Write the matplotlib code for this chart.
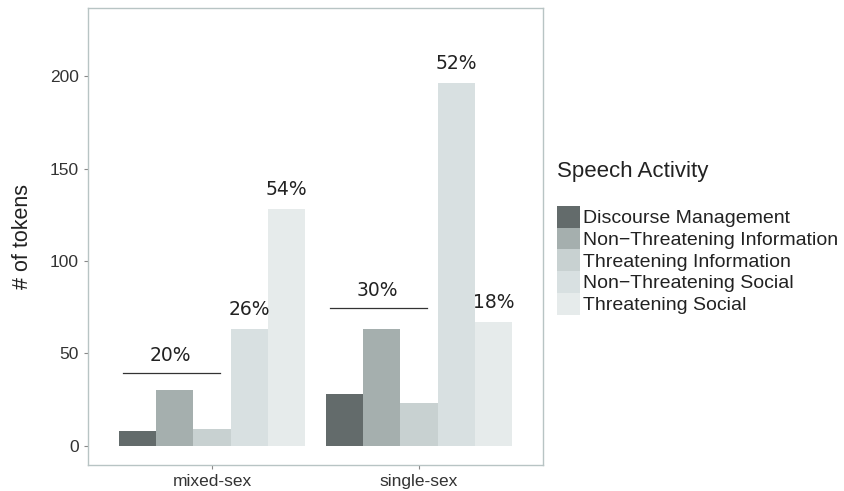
import numpy as np
import matplotlib.pyplot as plt
from matplotlib.patches import Patch

groups = ['mixed-sex', 'single-sex']
activities = ['Discourse Management', 'Non\u2212Threatening Information',
              'Threatening Information', 'Non\u2212Threatening Social',
              'Threatening Social']
counts = {
    'mixed-sex': [8, 30, 9, 63, 128],
    'single-sex': [28, 63, 23, 196, 67],
}
colors = ['#636b6b', '#a5afae', '#c8d1d1', '#d8e0e1', '#e6ebeb']

# bracket labels over the first three bars, then single-bar labels
bracket_pct = ['20%', '30%']
bracket_y = [39.5, 74.5]
bar_pct = {'mixed-sex': ['26%', '54%'], 'single-sex': ['52%', '18%']}

plt.rcParams['font.family'] = ['Liberation Sans', 'DejaVu Sans']

fig = plt.figure(figsize=(8.44, 4.91), dpi=100)
ax = fig.add_axes([88 / 844, 26 / 491, 455 / 844, 457 / 491])

n = len(activities)
w = 0.9 / n
for gi, g in enumerate(groups):
    xc = gi + 1
    xs = xc - 0.45 + w / 2 + np.arange(n) * w
    ax.bar(xs, counts[g], width=w, color=colors, edgecolor='none')
    # bracket over first three bars
    ax.plot([xs[0] - w / 2 + 0.02, xs[2] + w / 2 - 0.05], [bracket_y[gi]] * 2,
            color='#333333', lw=0.9)
    ax.text((xs[0] + xs[2]) / 2 - 0.02, bracket_y[gi] + 4.5, bracket_pct[gi],
            ha='center', va='bottom', fontsize=13.5, family='DejaVu Sans',
            color='#222222')
    for k, idx in enumerate([3, 4]):
        ax.text(xs[idx], counts[g][idx] + 5.5, bar_pct[g][k], ha='center',
                va='bottom', fontsize=13.5, family='DejaVu Sans', color='#222222')

ax.set_xlim(0.4, 2.6)
ax.set_ylim(-10.3, 236.8)
ax.set_xticks([1, 2])
ax.set_xticklabels(groups, fontsize=12.5, color='#333333')
ax.set_yticks([0, 50, 100, 150, 200])
ax.tick_params(axis='y', labelsize=12.5, colors='#333333', length=3, color='#888888')
ax.tick_params(axis='x', colors='#333333', length=3, color='#888888')
ax.set_ylabel('# of tokens', fontsize=15.5, color='#222222', labelpad=12)
for s in ax.spines.values():
    s.set_color('#b8c4c4')
    s.set_linewidth(1)

fig.text(557 / 844, 1 - 172 / 491, 'Speech Activity', fontsize=16,
         color='#222222', va='center', ha='left')
handles = [Patch(facecolor=c, edgecolor='none') for c in colors]
leg = fig.legend(handles, activities, loc='upper left',
                 bbox_to_anchor=(557 / 844, 1 - 206 / 491), frameon=False,
                 fontsize=14, handlelength=1.2, handleheight=1.34,
                 handletextpad=0.12, labelspacing=0.0, borderaxespad=0,
                 borderpad=0)
for t in leg.get_texts():
    t.set_color('#222222')

fig.savefig('out.png', dpi=100)
